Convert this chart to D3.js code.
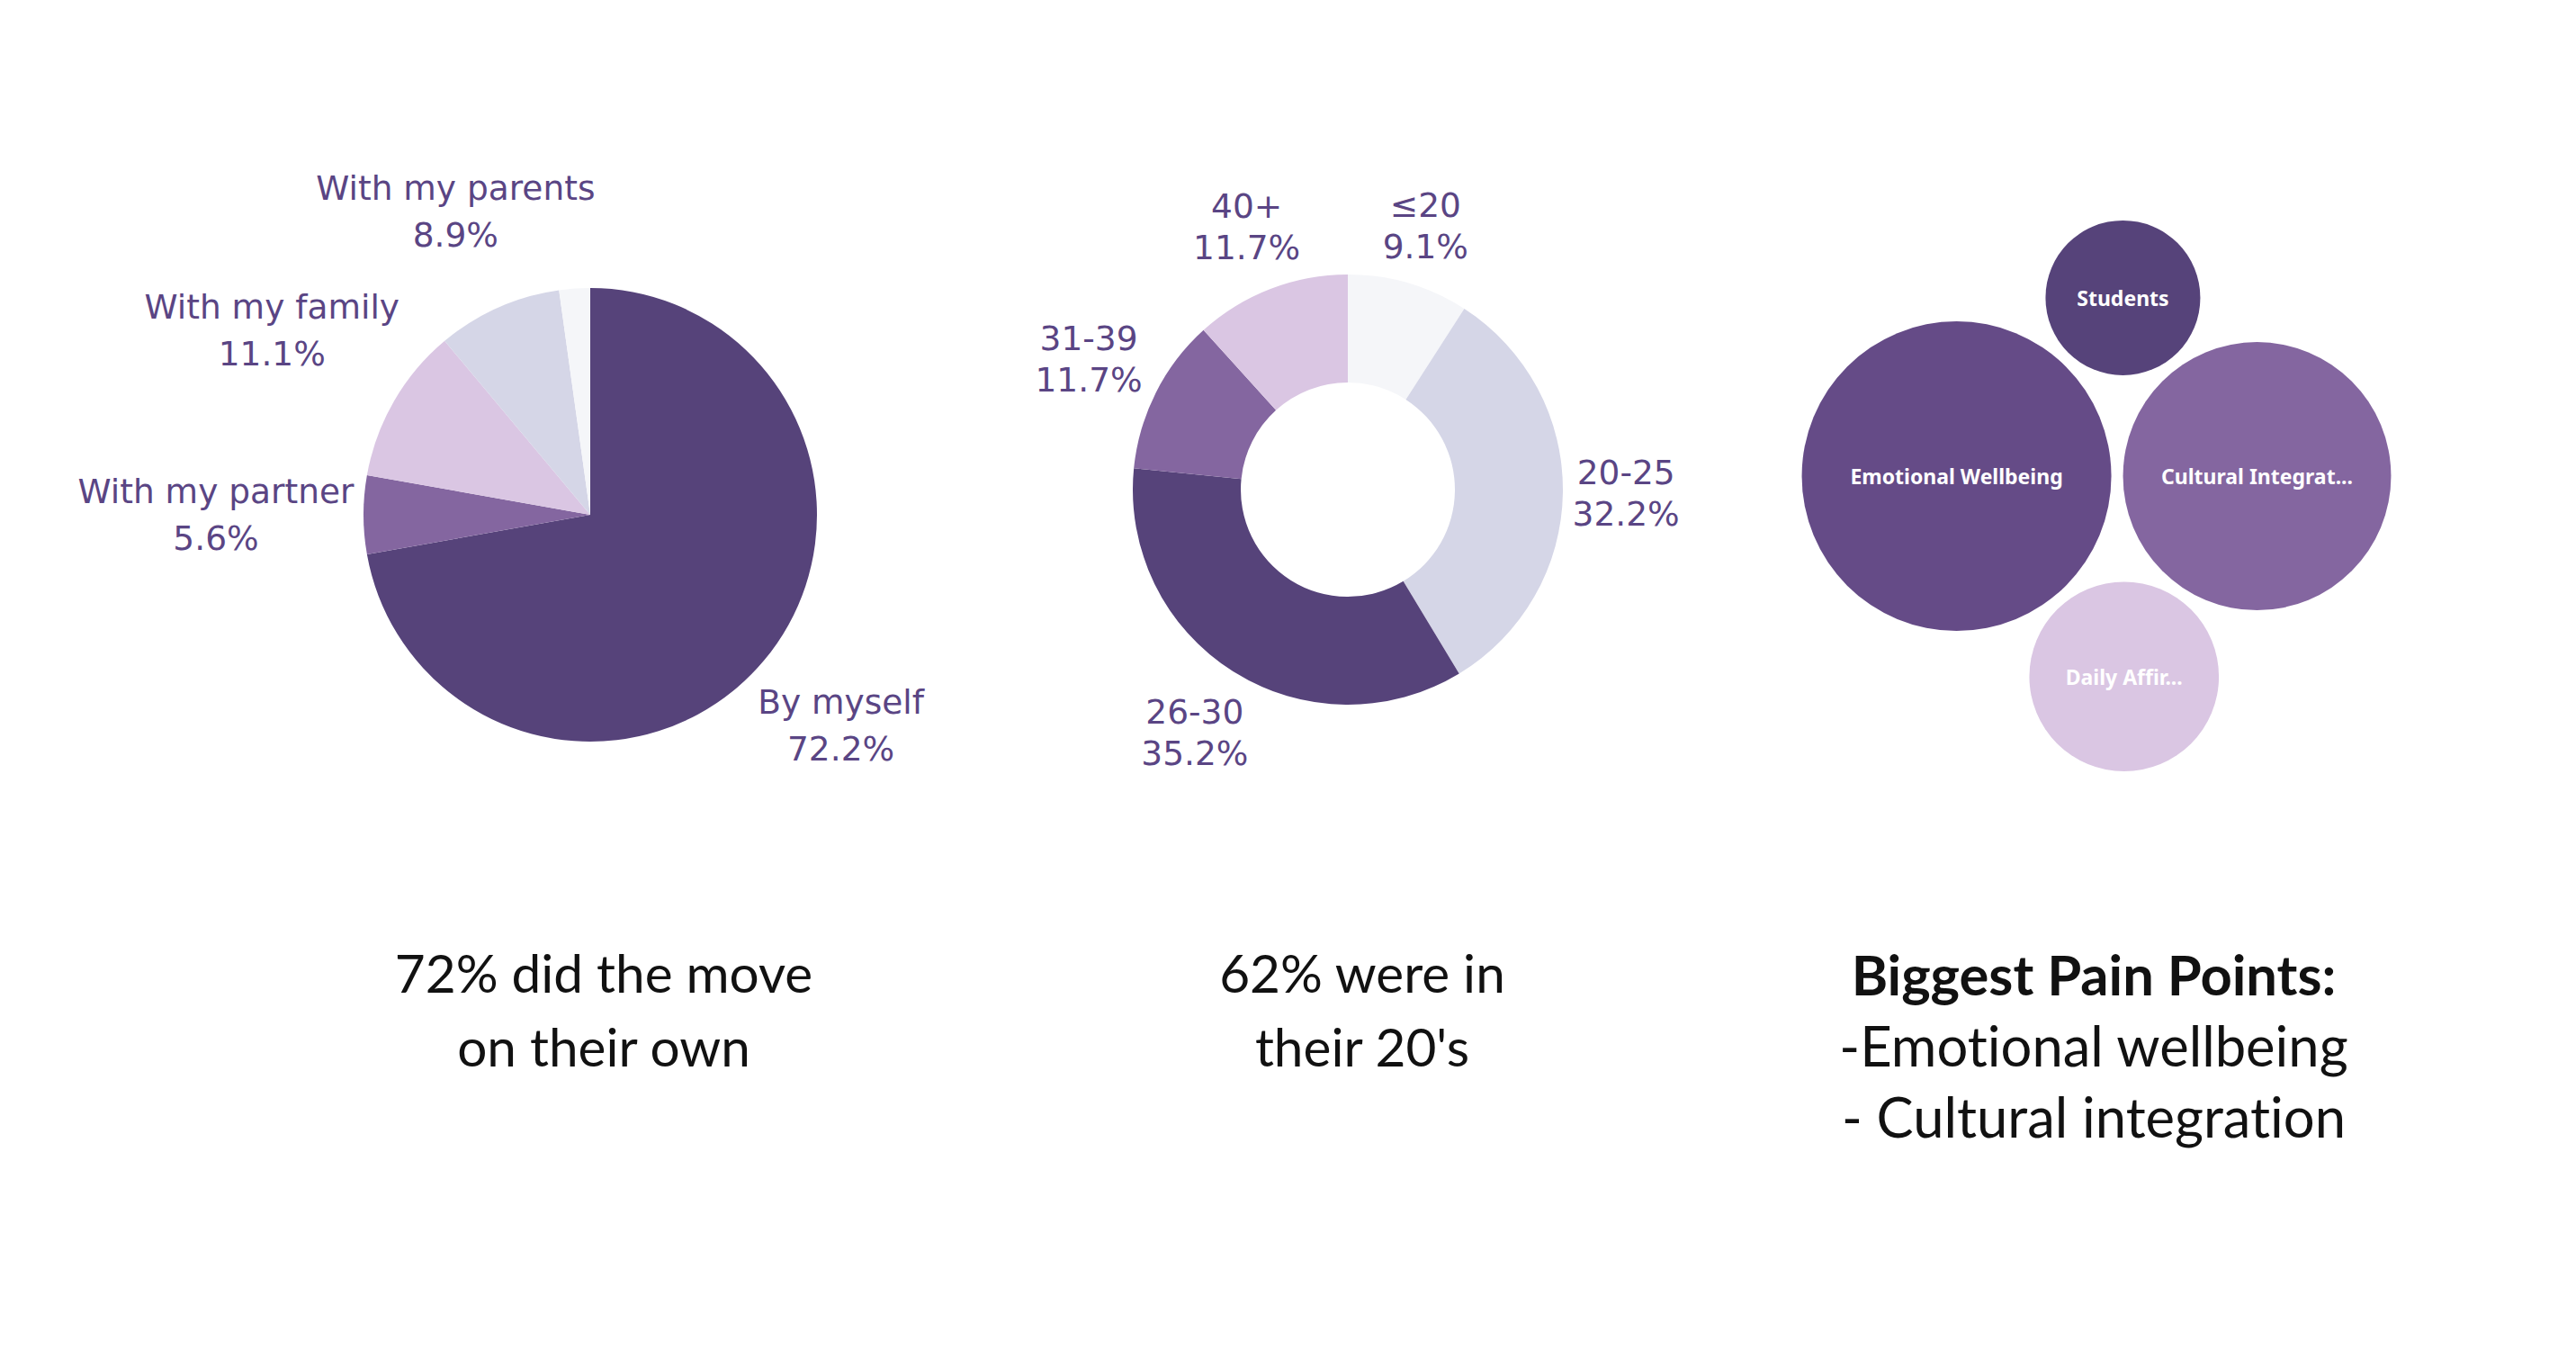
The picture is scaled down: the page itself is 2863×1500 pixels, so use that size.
<!DOCTYPE html>
<html><head><meta charset="utf-8">
<script src="https://cdn.jsdelivr.net/npm/d3@7"></script>
<style>html,body{margin:0;background:#fff;} svg{display:block} text{font-variant-ligatures:none;font-feature-settings:"liga" 0;}</style>
</head><body>
<svg id="chart" width="2863" height="1500"></svg>
<script>
// ---- data ----
const companyLabels = ["By myself", "With my partner", "With my family", "With my parents", ""];
const companyValues = [72.2, 5.6, 11.1, 8.9, 2.2];
const companyColors = ["#56437a", "#8466a0", "#dac6e3", "#d5d6e7", "#f5f6f9"];

const ageLabels = ["≤20", "20-25", "26-30", "31-39", "40+"];
const ageValues = [9.1, 32.2, 35.2, 11.7, 11.7];
const ageColors = ["#f5f6f9", "#d5d6e7", "#56437a", "#8466a0", "#dac6e3"];

const painLabels = ["Emotional Wellbeing", "Cultural Integrat...", "Daily Affir...", "Students"];
const painValues = [8, 6, 3, 2];
const painColors = ["#654b87", "#8466a0", "#dac6e3", "#56437a"];

const caption1 = ["72% did the move", "on their own"];
const caption2 = ["62% were in", "their 20's"];
const caption3Title = "Biggest Pain Points:";
const caption3 = ["-Emotional wellbeing", "- Cultural integration"];

// ---- drawing ----
const svg = d3.select("#chart");
const labelColor = "#5a4584";
const labelFont = "'DejaVu Sans', sans-serif";
const fmt = v => d3.format(".1f")(v) + "%";

function drawPie(cx, cy, rOuter, rInner, labels, values, colors, lineStep) {
  const g = svg.append("g").attr("transform", `translate(${cx},${cy})`);
  const pie = d3.pie().sort(null).value(d => d);
  const arcs = pie(values);
  const arc = d3.arc().innerRadius(rInner).outerRadius(rOuter);
  g.selectAll("path").data(arcs).join("path")
    .attr("d", arc)
    .attr("fill", (d, i) => colors[i]);
  const gap = 10;
  arcs.forEach((a, i) => {
    if (!labels[i]) return;
    const mid = (a.startAngle + a.endAngle) / 2;
    const ux = Math.sin(mid), uy = -Math.cos(mid);
    const t = g.append("text")
      .attr("font-family", labelFont)
      .attr("font-size", 37.5)
      .attr("fill", labelColor)
      .attr("text-anchor", "middle");
    t.append("tspan").attr("x", 0).attr("y", 0).text(labels[i]);
    t.append("tspan").attr("x", 0).attr("y", lineStep).text(fmt(values[i]));
    const bb = t.node().getBBox();
    const hw = bb.width / 2, hh = bb.height / 2;
    const d = rOuter + gap + Math.abs(ux) * hw + Math.abs(uy) * hh;
    const bcx = bb.x + hw, bcy = bb.y + hh;
    t.attr("transform", `translate(${ux * d - bcx},${uy * d - bcy})`);
  });
}

drawPie(656, 572, 252, 0, companyLabels, companyValues, companyColors, 52);
drawPie(1498, 544, 239, 119, ageLabels, ageValues, ageColors, 46);

// ---- bubbles ----
const rScale = d3.scaleSqrt().domain([0, d3.max(painValues)]).range([0, 172]);
const pad = 6.5;
const nodes = painValues.map((v, i) => ({ r: rScale(v) + pad, label: painLabels[i], color: painColors[i] }));
d3.packSiblings(nodes);
nodes.forEach(n => n.r -= pad);
const x0 = d3.min(nodes, n => n.x - n.r), x1 = d3.max(nodes, n => n.x + n.r);
const y0 = d3.min(nodes, n => n.y - n.r), y1 = d3.max(nodes, n => n.y + n.r);
const bg = svg.append("g")
  .attr("transform", `translate(${2330 - (x0 + x1) / 2},${551 - (y0 + y1) / 2})`);
const bn = bg.selectAll("g").data(nodes).join("g")
  .attr("transform", d => `translate(${d.x},${d.y})`);
bn.append("circle").attr("r", d => d.r).attr("fill", d => d.color);
bn.append("text")
  .attr("text-anchor", "middle")
  .attr("dominant-baseline", "central")
  .attr("font-family", "'Noto Sans', sans-serif")
  .attr("font-weight", 700)
  .attr("font-size", 23)
  .attr("fill", "#ffffff")
  .text(d => d.label);

// ---- captions ----
const capFont = "Lato, sans-serif";
function caption(x, lines, y0, step, size, weight) {
  const t = svg.append("text")
    .attr("text-anchor", "middle")
    .attr("font-family", capFont)
    .attr("font-size", size)
    .attr("fill", "#111111");
  lines.forEach((l, i) => {
    t.append("tspan").attr("x", x).attr("y", y0 + i * step)
      .attr("font-weight", weight ? weight(i) : 400).text(l);
  });
}
caption(671, caption1, 1103, 82, 58.5);
caption(1514, caption2, 1103, 82, 58.5);
caption(2327, [caption3Title].concat(caption3), 1106, 79, 61.5, i => i === 0 ? 700 : 400);
</script>
</body></html>
